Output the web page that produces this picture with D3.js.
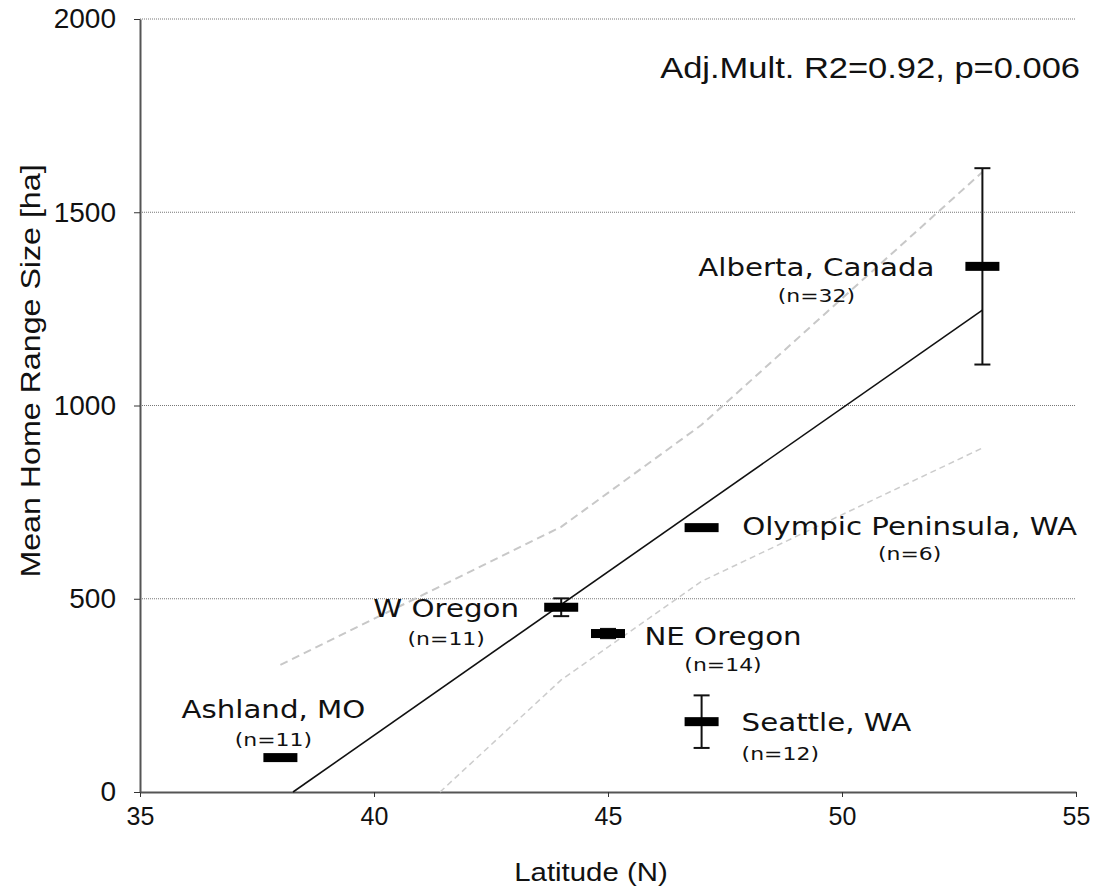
<!DOCTYPE html>
<html>
<head>
<meta charset="utf-8">
<script src="https://d3js.org/d3.v7.min.js"></script>
<style>
  body { margin: 0; background: #fff; }
  .tick-label { font-family: "Liberation Sans", Arial, sans-serif; }
  .site { font-family: "DejaVu Sans", Verdana, sans-serif; fill: #111; }
</style>
</head>
<body>
<div class="vis"></div>
<script>
  // data
  var sites = ["Ashland, MO", "W Oregon", "NE Oregon", "Olympic Peninsula, WA", "Seattle, WA", "Alberta, Canada"];
  var latitude = [38, 44, 45, 47, 47, 53];
  var meanRange = [89, 478, 410, 684, 182, 1360];
  var errRange = [0, 23, 12, 0, 68, 254];
  var sampleN = [11, 11, 14, 6, 12, 32];

  var fitLat = [38.27, 53];
  var fitRange = [0, 1247];
  var upperLat = [38, 44, 47, 53];
  var upperRange = [329, 686, 950, 1604];
  var lowerLat = [41.41, 44, 47, 53];
  var lowerRange = [0, 290, 545, 890];

  var xTicks = [35, 40, 45, 50, 55];
  var yTicks = [0, 500, 1000, 1500, 2000];
  var statsText = "Adj.Mult. R2=0.92, p=0.006";

  // label placement relative to each mark (px): dx, dy name, dy n, anchor
  var labelPos = [
    [-7, -40, -12, "middle"],
    [-115, 10, 38, "middle"],
    [115, 11, 37, "middle"],
    [208, 7, 32, "middle"],
    [40, 9, 38, "start"],
    [-166, 10, 36, "middle"]
  ];

  var width = 1098, height = 890;
  var svg = d3.select('.vis').append('svg')
    .attr('width', width)
    .attr('height', height);

  var x = d3.scaleLinear().domain([35, 55]).range([140, 1076]);
  var y = d3.scaleLinear().domain([0, 2000]).range([792, 19]);

  // the original figure is a bit stretched sideways, so text gets a scaleX
  function addText(px, py, str, size, sx, anchor, cls) {
    return svg.append('text')
      .attr('class', cls || 'tick-label')
      .attr('transform', 'translate(' + px + ',' + py + ') scale(' + sx + ',1)')
      .attr('text-anchor', anchor)
      .attr('font-size', size)
      .attr('fill', '#111')
      .text(str);
  }

  // gridlines
  svg.append('g')
    .selectAll('line')
    .data(yTicks.filter(function (d) { return d > 0; }))
    .join('line')
    .attr('x1', x(35)).attr('x2', x(55))
    .attr('y1', function (d) { return y(d); })
    .attr('y2', function (d) { return y(d); })
    .attr('stroke', '#777')
    .attr('stroke-width', 1)
    .attr('stroke-dasharray', '1,1');

  // x axis
  var xAxis = svg.append('g')
    .attr('transform', 'translate(0,' + y(0) + ')')
    .call(d3.axisBottom(x).tickValues(xTicks).tickSize(5).tickSizeOuter(0).tickPadding(10));
  xAxis.select('.domain').attr('stroke', '#555').attr('stroke-width', 2);
  xAxis.selectAll('.tick line').attr('stroke', '#333');
  xAxis.selectAll('.tick text')
    .attr('class', 'tick-label')
    .attr('font-size', 25)
    .attr('fill', '#111');

  // y axis
  var yAxis = svg.append('g')
    .attr('transform', 'translate(' + x(35) + ',0)')
    .call(d3.axisLeft(y).tickValues(yTicks).tickFormat(d3.format('d')).tickSize(6).tickSizeOuter(0).tickPadding(18));
  yAxis.select('.domain').attr('stroke', '#555').attr('stroke-width', 2);
  yAxis.selectAll('.tick line').attr('stroke', '#333');
  yAxis.selectAll('.tick text')
    .attr('class', 'tick-label')
    .attr('font-size', 28)
    .attr('fill', '#111');

  // axis titles
  addText(591, 881, 'Latitude (N)', 26, 1.13, 'middle');

  svg.append('text')
    .attr('class', 'tick-label')
    .attr('transform', 'translate(40,371) rotate(-90) scale(1.15,1)')
    .attr('text-anchor', 'middle')
    .attr('font-size', 28)
    .attr('fill', '#111')
    .text('Mean Home Range Size [ha]');

  var line = d3.line()
    .x(function (d) { return x(d[0]); })
    .y(function (d) { return y(d[1]); });

  // confidence bands
  svg.append('path')
    .attr('d', line(d3.zip(upperLat, upperRange)))
    .attr('fill', 'none')
    .attr('stroke', '#c8c8c8')
    .attr('stroke-width', 2)
    .attr('stroke-dasharray', '8,5');

  svg.append('path')
    .attr('d', line(d3.zip(lowerLat, lowerRange)))
    .attr('fill', 'none')
    .attr('stroke', '#cccccc')
    .attr('stroke-width', 1.5)
    .attr('stroke-dasharray', '6,4');

  // regression line
  svg.append('path')
    .attr('d', line(d3.zip(fitLat, fitRange)))
    .attr('fill', 'none')
    .attr('stroke', '#111')
    .attr('stroke-width', 1.6);

  var pts = d3.range(sites.length).map(function (i) {
    return { name: sites[i], lat: latitude[i], mean: meanRange[i], err: errRange[i], n: sampleN[i], pos: labelPos[i] };
  });

  // error bars
  var eb = svg.append('g').selectAll('g')
    .data(pts.filter(function (d) { return d.err > 0; }))
    .join('g');
  eb.append('line')
    .attr('x1', function (d) { return x(d.lat); })
    .attr('x2', function (d) { return x(d.lat); })
    .attr('y1', function (d) { return y(d.mean + d.err); })
    .attr('y2', function (d) { return y(d.mean - d.err); })
    .attr('stroke', '#111').attr('stroke-width', 2);
  [1, -1].forEach(function (s) {
    eb.append('line')
      .attr('x1', function (d) { return x(d.lat) - 8; })
      .attr('x2', function (d) { return x(d.lat) + 8; })
      .attr('y1', function (d) { return y(d.mean + s * d.err); })
      .attr('y2', function (d) { return y(d.mean + s * d.err); })
      .attr('stroke', '#111').attr('stroke-width', 2);
  });

  // mean bars
  svg.append('g').selectAll('rect')
    .data(pts)
    .join('rect')
    .attr('x', function (d) { return x(d.lat) - 17; })
    .attr('y', function (d) { return y(d.mean) - 4.5; })
    .attr('width', 34)
    .attr('height', 9)
    .attr('fill', '#000');

  // site labels
  var lab = svg.append('g').selectAll('g')
    .data(pts)
    .join('g');
  lab.append('text')
    .attr('class', 'site')
    .attr('transform', function (d) {
      return 'translate(' + (x(d.lat) + d.pos[0]) + ',' + (y(d.mean) + d.pos[1]) + ') scale(1.22,1)';
    })
    .attr('text-anchor', function (d) { return d.pos[3]; })
    .attr('font-size', 24)
    .text(function (d) { return d.name; });
  lab.append('text')
    .attr('class', 'site')
    .attr('transform', function (d) {
      return 'translate(' + (x(d.lat) + d.pos[0]) + ',' + (y(d.mean) + d.pos[2]) + ') scale(1.22,1)';
    })
    .attr('text-anchor', function (d) { return d.pos[3]; })
    .attr('font-size', 18)
    .text(function (d) { return '(n=' + d.n + ')'; });

  // stats note
  addText(1080, 78, statsText, 30, 1.15, 'end');
</script>
</body>
</html>
